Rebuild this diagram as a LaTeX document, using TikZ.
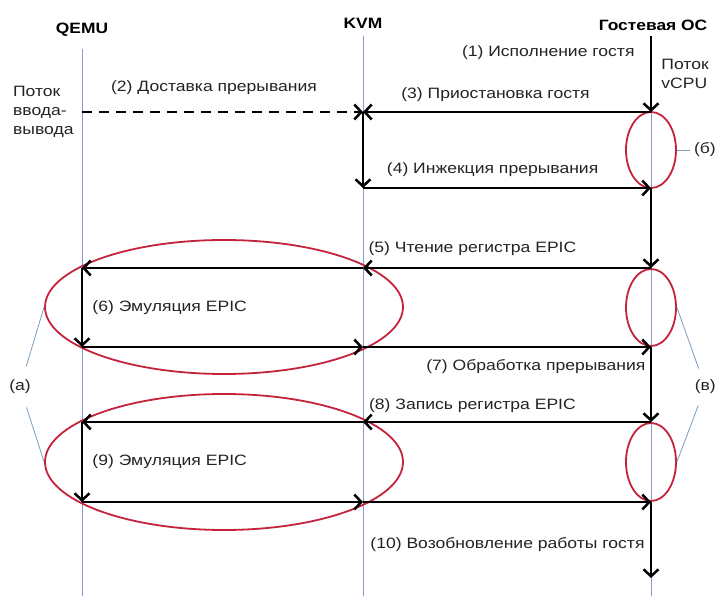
\documentclass[tikz,border=0pt]{standalone}
\usepackage{fontspec}
\setmainfont{Liberation Sans}
\usepackage{tikz}
\usetikzlibrary{shapes.geometric, arrows.meta, positioning, calc}
\definecolor{mylife}{RGB}{135,155,210}
\definecolor{myred}{RGB}{195,35,60}
\definecolor{mynote}{RGB}{125,155,185}
\definecolor{mytext}{RGB}{35,35,35}
\tikzset{
  head/.style={font=\fontsize{15}{17}\selectfont\bfseries, inner sep=0pt, xscale=1.16},
  lbl/.style={font=\fontsize{15}{19}\selectfont, text=mytext, inner sep=0pt, xscale=1.17},
  life/.style={draw=mylife, line width=0.9pt},
  msg/.style={-{Straight Barb[length=7pt, width=15pt]}, line width=2.5pt, color=black},
  oval/.style={ellipse, draw=myred, line width=1.8pt, inner sep=0pt},
  note/.style={draw=mynote, line width=0.8pt}
}
\begin{document}
\begin{tikzpicture}[x=1pt, y=-1pt]
  \useasboundingbox (0,0) rectangle (716,596);

  % lifelines
  \node[head] (qemu) at (82,30) {QEMU};
  \node[head] (kvm) at (363,23) {KVM};
  \node[head] (guest) at (653,25) {Гостевая ОС};
  \foreach \n/\y in {0/36,1/112,2/188,3/268,4/347,5/422,6/502,7/578,8/596} {
    \coordinate (q\n) at (82,\y);
    \coordinate (k\n) at (363,\y);
    \coordinate (g\n) at (651,\y);
  }
  \draw[life, shorten <=12pt] (qemu) -- (q8);
  \draw[life, shorten <=8pt] (kvm) -- (k8);
  \draw[life] (g0) -- (g8);

  % exits of the guest
  \node[oval, minimum width=50pt, minimum height=76pt] (trap1) at ($(g1)!0.5!(g2)$) {};
  \node[oval, minimum width=50pt, minimum height=77pt] (trap2) at ($(g3)!0.5!(g4)$) {};
  \node[oval, minimum width=50pt, minimum height=78pt] (trap3) at ($(g5)!0.5!(g6)$) {};

  % emulation in QEMU
  \node[oval, minimum width=358pt, minimum height=134pt] (emu1) at (224,307) {};
  \node[oval, minimum width=358pt, minimum height=136pt] (emu2) at (224,462) {};

  % interrupt delivery
  \draw[msg] (g0) -- node[lbl, left=15pt, pos=0.22] {(1) Исполнение гостя}
    node[lbl, right=9pt, midway, align=left] {Поток\\vCPU} (g1);
  \draw[msg, dash pattern=on 10pt off 7pt] (q1)
    node[lbl, left=7pt, align=left] {Поток\\ввода-\\вывода}
    -- node[lbl, above=16pt, pos=0.47] {(2) Доставка прерывания} (k1);
  \draw[msg] (g1) -- node[lbl, above=9pt, pos=0.54] {(3) Приостановка гостя} (k1);
  \draw[msg] (k1) -- (k2);
  \draw[msg] (k2) -- node[lbl, above=10pt, pos=0.45] {(4) Инжекция прерывания} (g2);

  % read of the EPIC register
  \draw[msg] (g2) -- (g3);
  \draw[msg] (g3) -- node[lbl, above=11pt, pos=0.62] {(5) Чтение регистра EPIC} (k3);
  \draw[msg] (k3) -- (q3);
  \draw[msg] (q3) -- node[lbl, right=9pt, midway] {(6) Эмуляция EPIC} (q4);
  \draw[msg] (q4) -- (k4);
  \draw[msg] (k4) -- node[lbl, below=11pt, pos=0.6] {(7) Обработка прерывания} (g4);

  % write of the EPIC register
  \draw[msg] (g4) -- (g5);
  \draw[msg] (g5) -- node[lbl, above=8pt, pos=0.62] {(8) Запись регистра EPIC} (k5);
  \draw[msg] (k5) -- (q5);
  \draw[msg] (q5) -- node[lbl, right=9pt, midway] {(9) Эмуляция EPIC} (q6);
  \draw[msg] (q6) -- (k6);
  \draw[msg] (k6) -- (g6);
  \draw[msg] (g6) -- node[lbl, left=5pt, pos=0.56] {(10) Возобновление работы гостя} (g7);

  % notes
  \node[lbl] (na) at (20,387) {(а)};
  \node[lbl, anchor=east] (nb) at (716,387) {(в)};
  \node[lbl, anchor=east] (nc) at (716,150) {(б)};
  \draw[note, shorten <=14pt] (na) -- (emu1.west);
  \draw[note, shorten <=14pt] (na) -- (emu2.west);
  \draw[note, shorten <=12pt] (nb) -- (trap2.east);
  \draw[note, shorten <=12pt] (nb) -- (trap3.east);
  \draw[note, shorten >=4pt] (trap1.east) -- (nc);
\end{tikzpicture}
\end{document}
